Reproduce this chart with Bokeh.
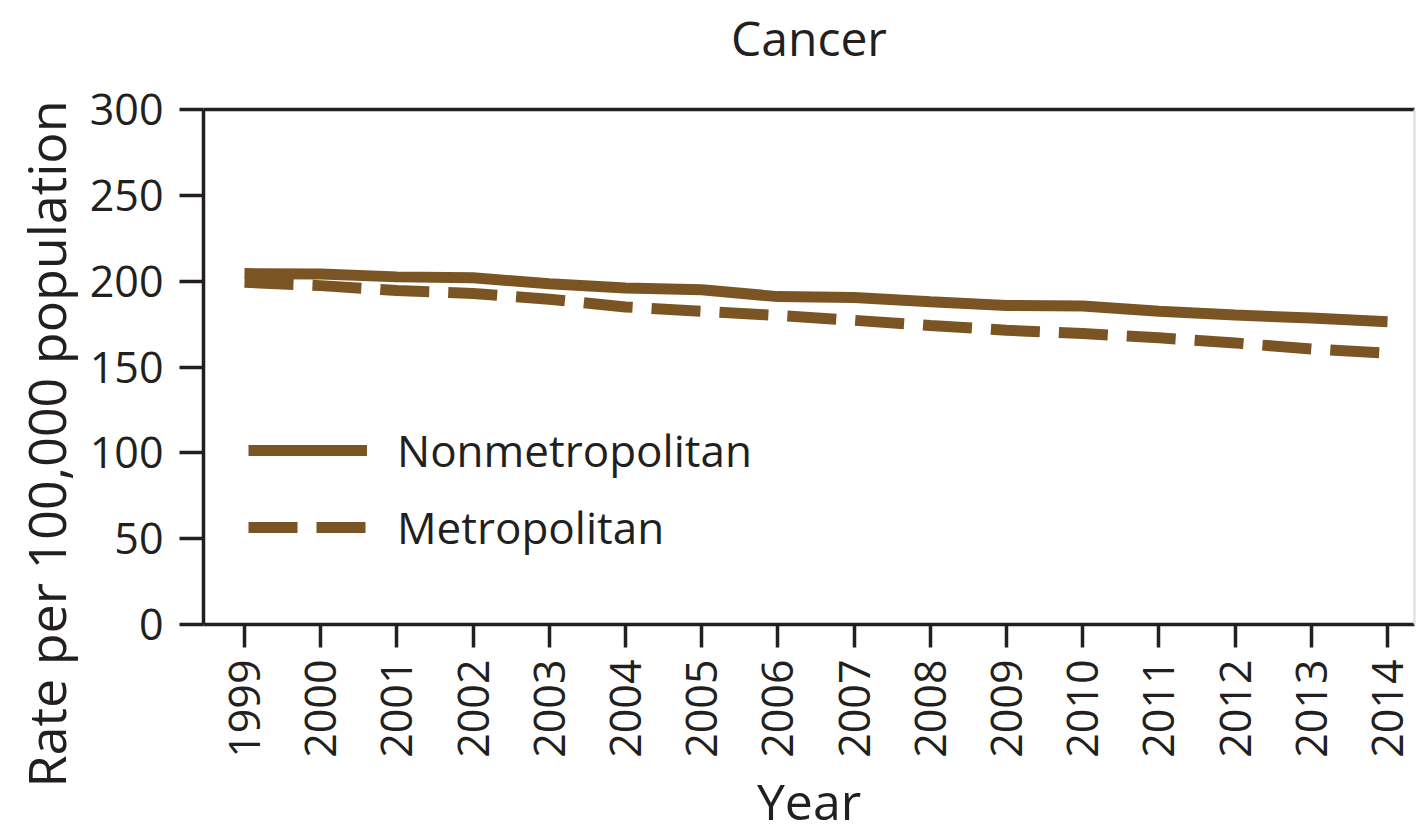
import math
from bokeh.plotting import figure
from bokeh.models import (FixedTicker, LinearAxis, Legend, LegendItem, Title,
                          Range1d)
from bokeh.embed import file_html
from bokeh.resources import INLINE

# ---- data ----
years = list(range(1999, 2015))
nonmetro = [204.4, 204.2, 202.5, 202.0, 198.5, 196.0, 195.0, 191.0,
            190.5, 188.0, 185.8, 185.5, 182.5, 180.3, 178.5, 176.3]
metro = [199.3, 197.4, 194.5, 192.8, 189.5, 185.0, 182.5, 180.0,
         177.2, 174.2, 171.4, 169.5, 167.0, 164.0, 160.5, 158.0]
y_ticks = [0, 50, 100, 150, 200, 250, 300]
title_text = "Cancer"
x_label = "Year"
y_label = "Rate per 100,000 population"
series_names = ["Nonmetropolitan", "Metropolitan"]

# ---- style ----
FONT = "Open Sans"
INK = "#231f20"
BROWN = "#7b5424"
AXW = 3.5

p = figure(width=1417, height=837,
           x_range=Range1d(1998.462, 2014.354), y_range=Range1d(y_ticks[0], y_ticks[-1]),
           output_backend="svg", toolbar_location=None,
           x_axis_type=None, y_axis_type=None,
           min_border_left=203, min_border_top=109, min_border_right=3,
           min_border_bottom=210)
p.outline_line_color = None
p.background_fill_color = "white"
p.border_fill_color = "white"

r1 = p.line(years, nonmetro, line_color=BROWN, line_width=11)
r2 = p.line(years, metro, line_color=BROWN, line_width=11, line_dash="49 19")

# bottom axis
xa = LinearAxis(ticker=FixedTicker(ticks=years), axis_label=x_label)
xa.major_label_orientation = math.pi / 2
xa.major_tick_in = 0
xa.major_tick_out = 23
xa.minor_tick_out = 0
xa.minor_tick_in = 0
xa.axis_line_width = AXW
xa.major_tick_line_width = AXW
xa.axis_line_color = INK
xa.major_tick_line_color = INK
xa.major_label_text_font = FONT
xa.major_label_text_font_size = "43px"
xa.major_label_text_color = INK
xa.major_label_standoff = 12
xa.axis_label_text_font = FONT
xa.axis_label_text_font_size = "50px"
xa.axis_label_text_font_style = "normal"
xa.axis_label_text_color = INK
xa.axis_label_standoff = 6
p.add_layout(xa, "below")

# left axis
ya = LinearAxis(ticker=FixedTicker(ticks=y_ticks))
ya.major_tick_in = 0
ya.major_tick_out = 24
ya.minor_tick_out = 0
ya.minor_tick_in = 0
ya.axis_line_width = AXW
ya.major_tick_line_width = AXW
ya.axis_line_color = INK
ya.major_tick_line_color = INK
ya.major_label_text_font = FONT
ya.major_label_text_font_size = "43px"
ya.major_label_text_color = INK
ya.major_label_standoff = 16
p.add_layout(ya, "left")

# y axis title, shifted along the axis as in the reference
yt = Title(text=y_label, align="left", offset=-163, standoff=12,
           text_font=FONT, text_font_size="52px", text_font_style="normal",
           text_color=INK)
p.add_layout(yt, "left")

# top border carrying the chart title
ta = LinearAxis(ticker=FixedTicker(ticks=[]), axis_label=title_text)
ta.major_tick_in = 0
ta.major_tick_out = 0
ta.minor_tick_in = 0
ta.minor_tick_out = 0
ta.axis_line_width = AXW
ta.axis_line_color = INK
ta.major_label_standoff = 0
ta.axis_label_standoff = 40
ta.axis_label_text_font = FONT
ta.axis_label_text_font_size = "48px"
ta.axis_label_text_font_style = "normal"
ta.axis_label_text_color = INK
p.add_layout(ta, "above")

# faint right border
ra = LinearAxis(ticker=FixedTicker(ticks=[]))
ra.major_tick_in = 0
ra.major_tick_out = 0
ra.minor_tick_in = 0
ra.minor_tick_out = 0
ra.axis_line_width = 2
ra.axis_line_color = "#dcdcdc"
ra.major_label_standoff = 0
p.add_layout(ra, "right")

legend = Legend(items=[LegendItem(label=series_names[0], renderers=[r1]),
                       LegendItem(label=series_names[1], renderers=[r2])],
                location=(45, 67), glyph_width=119, glyph_height=40,
                label_standoff=30, spacing=17, padding=0, margin=0,
                border_line_alpha=0, background_fill_alpha=0,
                label_text_font=FONT, label_text_font_size="44px",
                label_text_color=INK, label_height=40)
p.add_layout(legend)

open("out.html", "w").write(file_html(p, INLINE))
